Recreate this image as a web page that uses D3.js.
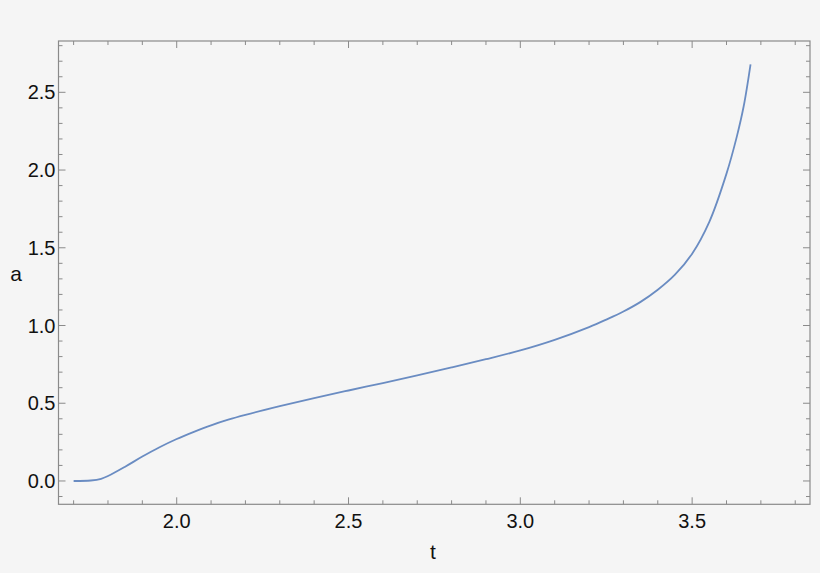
<!DOCTYPE html>
<html>
<head>
<meta charset="utf-8">
<script src="https://cdn.jsdelivr.net/npm/d3@7"></script>
<style>
  html, body { margin: 0; padding: 0; background: #f5f5f5; }
  svg { display: block; }
  text { font-family: "Liberation Sans", Arial, Helvetica, sans-serif; fill: #111; }
</style>
</head>
<body>
<svg id="chart" width="820" height="573"></svg>
<script>
// Data
const tValues = [1.70, 1.75, 1.78, 1.80, 1.85, 1.90, 1.95, 2.00, 2.05, 2.10, 2.15, 2.20, 2.30, 2.40, 2.50, 2.60, 2.70, 2.80, 2.90, 3.00, 3.10, 3.20, 3.25, 3.30, 3.35, 3.40, 3.45, 3.50, 3.55, 3.60, 3.63, 3.65, 3.67];
const aValues = [0.000, 0.003, 0.014, 0.032, 0.092, 0.157, 0.217, 0.270, 0.316, 0.358, 0.394, 0.425, 0.481, 0.533, 0.582, 0.630, 0.679, 0.730, 0.783, 0.840, 0.908, 0.990, 1.038, 1.090, 1.152, 1.230, 1.327, 1.462, 1.667, 1.977, 2.215, 2.410, 2.680];
const xTickLabels = [2.0, 2.5, 3.0, 3.5];
const yTickLabels = [0.0, 0.5, 1.0, 1.5, 2.0, 2.5];
const xLabel = "t";
const yLabel = "a";

(function () {
const svg = d3.select("#chart");
const mLeft = 58.5, mRight = 810, mTop = 41, mBottom = 504.3;

const x = d3.scaleLinear().domain([1.656, 3.843]).range([mLeft, mRight]);
const y = d3.scaleLinear().domain([-0.15, 2.83]).range([mBottom, mTop]);

const axisColor = "#8a8a8a";

svg.append("rect").attr("x", 0).attr("y", 0).attr("width", 820).attr("height", 573).attr("fill", "#f5f5f5");

// Ticks (minor every 0.1, major every 0.5), inward on all sides
const xMinor = d3.range(17, 39).map(d => d / 10);
const yMinor = d3.range(-1, 29).map(d => d / 10);
const isMajor = v => Math.abs(v * 2 - Math.round(v * 2)) < 1e-6;

const g = svg.append("g");
xMinor.forEach(v => {
  const len = isMajor(v) ? 7 : 4;
  const px = x(v);
  g.append("line").attr("x1", px).attr("x2", px).attr("y1", mBottom).attr("y2", mBottom - len).attr("stroke", axisColor).attr("stroke-width", 1);
  g.append("line").attr("x1", px).attr("x2", px).attr("y1", mTop).attr("y2", mTop + len).attr("stroke", axisColor).attr("stroke-width", 1);
});
yMinor.forEach(v => {
  const len = isMajor(v) ? 7 : 4;
  const py = y(v);
  g.append("line").attr("x1", mLeft).attr("x2", mLeft + len).attr("y1", py).attr("y2", py).attr("stroke", axisColor).attr("stroke-width", 1);
  g.append("line").attr("x1", mRight).attr("x2", mRight - len).attr("y1", py).attr("y2", py).attr("stroke", axisColor).attr("stroke-width", 1);
});

// Frame
svg.append("rect").attr("x", mLeft).attr("y", mTop).attr("width", mRight - mLeft).attr("height", mBottom - mTop)
  .attr("fill", "none").attr("stroke", axisColor).attr("stroke-width", 1.2);

// Tick labels
svg.append("g").selectAll("text").data(xTickLabels).join("text")
  .attr("x", d => x(d)).attr("y", 528)
  .attr("text-anchor", "middle").attr("font-size", 20)
  .text(d => d.toFixed(1));
svg.append("g").selectAll("text").data(yTickLabels).join("text")
  .attr("x", 55.5).attr("y", d => y(d)).attr("dy", "0.35em")
  .attr("text-anchor", "end").attr("font-size", 20)
  .text(d => d.toFixed(1));

// Axis labels
svg.append("text").attr("x", 433).attr("y", 559).attr("text-anchor", "middle").attr("font-size", 21).text(xLabel);
svg.append("text").attr("x", 16).attr("y", 281).attr("text-anchor", "middle").attr("font-size", 21).text(yLabel);

// Curve
const data = tValues.map((t, i) => ({ t, a: aValues[i] }));
const line = d3.line().x(d => x(d.t)).y(d => y(d.a)).curve(d3.curveCatmullRom.alpha(0.5));
svg.append("path").datum(data).attr("d", line)
  .attr("fill", "none").attr("stroke", "#6a8cc2").attr("stroke-width", 1.8);
})();
</script>
</body>
</html>
